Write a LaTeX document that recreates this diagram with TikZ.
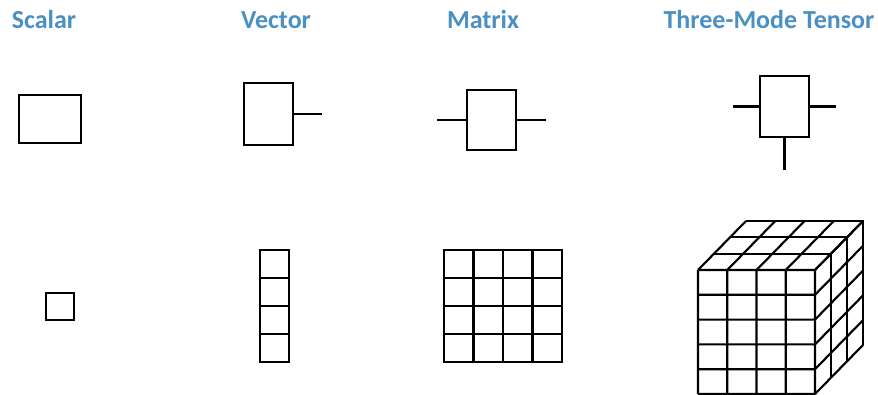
\documentclass[tikz,border=0pt]{standalone}
\usepackage{fontspec}
\setmainfont{Carlito}
\usetikzlibrary{positioning,calc}
\definecolor{headblue}{RGB}{74,144,194}
\tikzset{
	heading/.style={anchor=base, font=\fontsize{19.5}{22}\selectfont\bfseries, text=headblue, inner sep=0pt},
	tbox/.style={draw, line width=1.6pt, inner sep=0pt, outer sep=0pt},
	leg/.style={line width=1.6pt},
	cell/.style={line width=1.6pt}
}
\begin{document}
\begin{tikzpicture}[x=0.75pt, y=-0.75pt]
	\useasboundingbox (0,0) rectangle (878,394);
	% headings
	\node[heading] (hscalar) at (44,28) {Scalar};
	\node[heading] (hvector) at (276,28) {Vector};
	\node[heading] (hmatrix) at (483,28) {Matrix};
	\node[heading] (htensor) at (769,28) {Three-Mode Tensor};
	% diagram notation
	\node[tbox, minimum width=46.5pt, minimum height=36pt] (scalarbox) at (50,119) {};
	\node[tbox, minimum width=36.75pt, minimum height=46.5pt] (vectorbox) at (268.5,114) {};
	\coordinate (vecend) at (322,114);
	\draw[leg] (vectorbox.east) -- (vecend);
	\node[tbox, minimum width=36.75pt, minimum height=45pt] (matrixbox) at (491.5,120) {};
	\coordinate (matleft) at (437,120);
	\coordinate (matright) at (546,120);
	\draw[leg] (matrixbox.west) -- (matleft);
	\draw[leg] (matrixbox.east) -- (matright);
	\node[tbox, minimum width=36.75pt, minimum height=45.75pt] (tensorbox) at (784.5,106.5) {};
	\coordinate (tenleft) at (733,106.5);
	\coordinate (tenright) at (836,106.5);
	\coordinate (tendown) at (784.5,170);
	\draw[leg] (tensorbox.west) -- (tenleft);
	\draw[leg] (tensorbox.east) -- (tenright);
	\draw[leg] (tensorbox.south) -- (tendown);
	% array pictures
	\draw[cell] (46,293) rectangle (74,320);
	\foreach \r in {0,...,3}
		\draw[cell] (260,250+28*\r) rectangle (289,278+28*\r);
	\foreach \r in {0,...,3}
		\foreach \c in {0,...,3}
			\draw[cell] (444+29.5*\c,250+28*\r) rectangle (473.5+29.5*\c,278+28*\r);
	% cube: 4 columns, 5 rows, 3 slices deep
	\begin{scope}[cell]
		\foreach \c in {0,...,4}
			\draw (698+29.25*\c,270) -- (698+29.25*\c,394)
				(698+29.25*\c,270) -- (746+29.25*\c,221);
		\foreach \r in {0,...,5}
			\draw (698,270+24.8*\r) -- (815,270+24.8*\r)
				(815,270+24.8*\r) -- (863,221+24.8*\r);
		\foreach \k in {1,...,3}
			\draw (698+16*\k,270-16.33*\k) -- (815+16*\k,270-16.33*\k)
				-- (815+16*\k,394-16.33*\k);
	\end{scope}
\end{tikzpicture}
\end{document}
